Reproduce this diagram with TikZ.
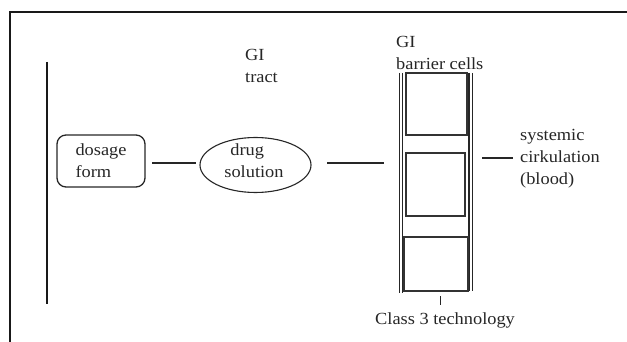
\documentclass[tikz,border=0pt]{standalone}
\usepackage{fontspec}
\setmainfont{Liberation Serif}[FakeStretch=1.08]
\usetikzlibrary{shapes.geometric}
\begin{document}
\begin{tikzpicture}[x=1pt,y=-1pt,
  txt/.style={font=\fontsize{17}{22}\selectfont, align=left, inner sep=0pt, text=black!85},
  ln/.style={line width=1.3pt, draw=black!85},
  frameline/.style={line width=2pt, draw=black!90},
  cellbox/.style={line width=1.6pt, draw=black!80},
  wall/.style={line width=1.3pt, draw=black!85}]
\useasboundingbox (0,0) rectangle (627,342);
% frame
\draw[frameline] (10,342) -- (10,12) -- (627,12);
% left vertical line
\draw[frameline, line width=1.6pt] (47,62) -- (47,304);
% dosage form
\node[txt, ln, draw, rounded corners=9pt, minimum width=88pt, minimum height=52pt] (dose) at (101,161) {dosage\\form};
% drug solution (outline only; text placed slightly above centre)
\node[ln, draw, ellipse, minimum width=111pt, minimum height=55pt, line width=1.1pt, inner sep=0pt] (sol) at (255.5,165) {};
\node[txt, anchor=center] (soltext) at (254,161) {\hspace*{6pt}drug\\solution};
% GI tract
\node[txt, anchor=north west] (tract) at (245,49) {GI\\tract};
% barrier
\node[txt, anchor=north west] (barrier) at (396,36) {GI\\barrier cells};
\draw[wall] (399.5,73) -- (399.5,293);
\draw[wall] (402.8,73) -- (402.8,293);
\draw[wall] (469,73) -- (469,291);
\draw[wall] (472.3,73) -- (472.3,291);
\node[cellbox, draw, minimum width=61pt, minimum height=62pt, inner sep=0pt] (cellA) at (436.5,104) {};
\node[cellbox, draw, minimum width=59pt, minimum height=63pt, inner sep=0pt] (cellB) at (435.5,184.5) {};
\node[cellbox, draw, minimum width=64pt, minimum height=54pt, inner sep=0pt] (cellC) at (436,264) {};
% systemic
\node[txt, anchor=north west] (sys) at (520,129) {systemic\\cirkulation\\(blood)};
% class 3
\node[txt, anchor=base west] (class) at (375,324) {Class 3 technology};
% connectors
\coordinate (a1) at (152,163);
\coordinate (a2) at (196,163);
\coordinate (b1) at (327,163);
\coordinate (b2) at (384,163);
\coordinate (c1) at (482,158);
\coordinate (c2) at (513,158);
\coordinate (t1) at (440.5,296);
\coordinate (t2) at (440.5,305);
\draw[ln] (a1) -- (a2);
\draw[ln] (b1) -- (b2);
\draw[ln] (c1) -- (c2);
\draw[ln, line width=1.1pt] (t1) -- (t2);
\end{tikzpicture}
\end{document}
